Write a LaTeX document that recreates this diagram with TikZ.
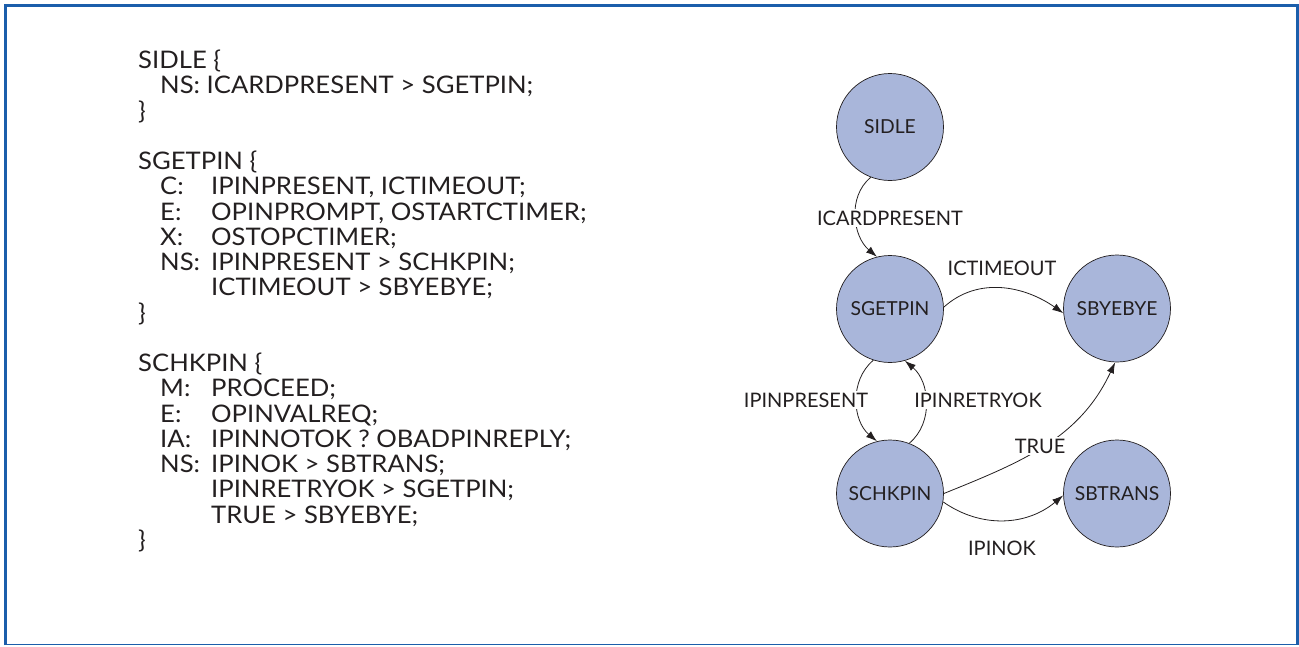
\documentclass[tikz,border=0pt]{standalone}
\usepackage{fontspec}
\setmainfont{Lato}
\newfontfamily\codefont{Lato}[FakeStretch=1.06]
\usetikzlibrary{arrows.meta}
\definecolor{framecol}{HTML}{1B5EAB}
\definecolor{statefill}{HTML}{A9B6DA}
\definecolor{ink}{HTML}{231F20}
\begin{document}
\begin{tikzpicture}[x=1pt,y=-1pt,
  code/.style={anchor=base west, inner sep=0pt, text=ink, font=\codefont\fontsize{24.2}{28}\selectfont},
  state/.style={circle, draw=ink, line width=0.7pt, fill=statefill, minimum size=107pt, inner sep=0pt, text=ink, font=\fontsize{19.3}{22}\selectfont},
  trans/.style={draw=ink, line width=0.8pt, -{Latex[length=11pt,width=7.5pt]}},
  lbl/.style={fill=white, inner sep=2pt, text=ink, font=\fontsize{20}{23}\selectfont}]
\useasboundingbox (0,0) rectangle (1299,646);
% frame
\draw[framecol, line width=2.7pt] (5.3,645) -- (5.3,5.3) -- (1297.8,5.3) -- (1297.8,645);
\draw[framecol, line width=1.2pt] (4,644.8) -- (1299,644.8);
% code text
\node[code] (c0) at (138,68.5) {SIDLE \{};
\node[code] (c1) at (160,93.76) {NS: ICARDPRESENT > SGETPIN;};
\node[code] (c2) at (138,119.02) {\}};
\node[code] (c4) at (138,169.54) {SGETPIN \{};
\node[code] (c5a) at (160,194.8) {C:};
\node[code] (c5b) at (211,194.8) {IPINPRESENT, ICTIMEOUT;};
\node[code] (c6a) at (160,220.06) {E:};
\node[code] (c6b) at (211,220.06) {OPINPROMPT, OSTARTCTIMER;};
\node[code] (c7a) at (160,245.32) {X:};
\node[code] (c7b) at (211,245.32) {OSTOPCTIMER;};
\node[code] (c8a) at (160,270.58) {NS:};
\node[code] (c8b) at (211,270.58) {IPINPRESENT > SCHKPIN;};
\node[code] (c9b) at (211,295.84) {ICTIMEOUT > SBYEBYE;};
\node[code] (c10) at (138,321.1) {\}};
\node[code] (c12) at (138,371.62) {SCHKPIN \{};
\node[code] (c13a) at (160,396.88) {M:};
\node[code] (c13b) at (211,396.88) {PROCEED;};
\node[code] (c14a) at (160,422.14) {E:};
\node[code] (c14b) at (211,422.14) {OPINVALREQ;};
\node[code] (c15a) at (160,447.4) {IA:};
\node[code] (c15b) at (211,447.4) {IPINNOTOK ? OBADPINREPLY;};
\node[code] (c16a) at (160,472.66) {NS:};
\node[code] (c16b) at (211,472.66) {IPINOK > SBTRANS;};
\node[code] (c17b) at (211,497.92) {IPINRETRYOK > SGETPIN;};
\node[code] (c18b) at (211,523.18) {TRUE > SBYEBYE;};
\node[code] (c19) at (138,548.44) {\}};
% states
\node[state] (sidle) at (890,127) {SIDLE};
\node[state] (sgetpin) at (890,309) {SGETPIN};
\node[state] (schkpin) at (890,493.5) {SCHKPIN};
\node[state] (sbyebye) at (1117,308.5) {SBYEBYE};
\node[state] (sbtrans) at (1117,493.5) {SBTRANS};
% transitions
\draw[trans] (sidle.249) to[out=220,in=140] (sgetpin.104);
\draw[trans] (sgetpin.2) to[out=42,in=145] (sbyebye.185);
\draw[trans] (sgetpin.252) to[out=220,in=140] (schkpin.104);
\draw[trans] (schkpin.69) to[out=40,in=-40] (sgetpin.286);
\draw[trans] (schkpin.0) to[out=22,in=245] (sbyebye.268);
\draw[trans] (schkpin.351) to[out=-35,in=-140] (sbtrans.182);
% labels
\node[lbl] (l1) at (890,218) {ICARDPRESENT};
\node[lbl] (l2) at (1002,268) {ICTIMEOUT};
\node[lbl] (l3) at (806,400) {IPINPRESENT};
\node[lbl] (l4) at (978,400) {IPINRETRYOK};
\node[lbl] (l5) at (1040,446) {TRUE};
\node[lbl] (l6) at (1002,548) {IPINOK};
\end{tikzpicture}
\end{document}
